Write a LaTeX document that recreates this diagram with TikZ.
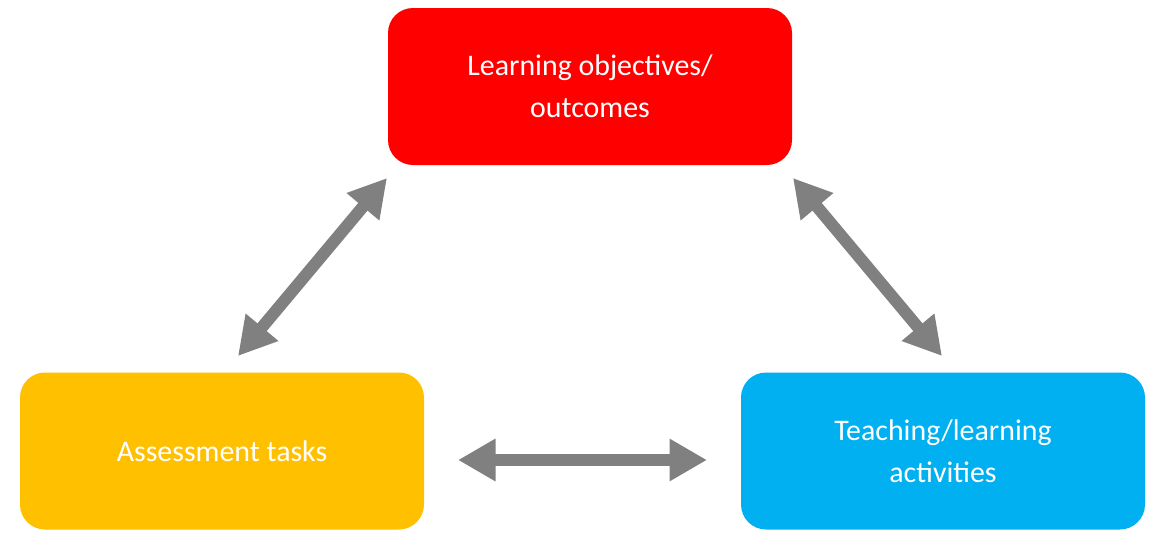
\documentclass[tikz,border=0pt]{standalone}
\usepackage{fontspec}
\setmainfont{Carlito}
\usetikzlibrary{arrows.meta}
\tikzset{
  box/.style={rounded corners=0.5cm, minimum width=8.08cm, minimum height=3.14cm,
    text=white, align=center, font=\fontsize{17}{24}\selectfont},
  link/.style={draw=gray, line width=0.24cm,
    {Triangle[width=0.8cm,length=0.75cm]}-{Triangle[width=0.8cm,length=0.75cm]}}
}
\begin{document}
\begin{tikzpicture}
  \useasboundingbox (0,0) rectangle (23.28,-10.82);
  \node[box, fill=red] (goals) at (11.8,-1.73) {Learning objectives/\\outcomes};
  \node[box, fill={rgb,255:red,255;green,192;blue,0}] (assess) at (4.44,-9.02) {Assessment tasks};
  \node[box, fill={rgb,255:red,0;green,176;blue,240}] (teach) at (18.86,-9.02) {Teaching/learning\\activities};

  \coordinate (a1) at (4.76,-7.12);
  \coordinate (a2) at (7.74,-3.56);
  \coordinate (b1) at (15.86,-3.56);
  \coordinate (b2) at (18.84,-7.12);
  \coordinate (c1) at (9.16,-9.2);
  \coordinate (c2) at (14.14,-9.2);

  \draw[link] (a1) -- (a2);
  \draw[link] (b1) -- (b2);
  \draw[link] (c1) -- (c2);
\end{tikzpicture}
\end{document}
